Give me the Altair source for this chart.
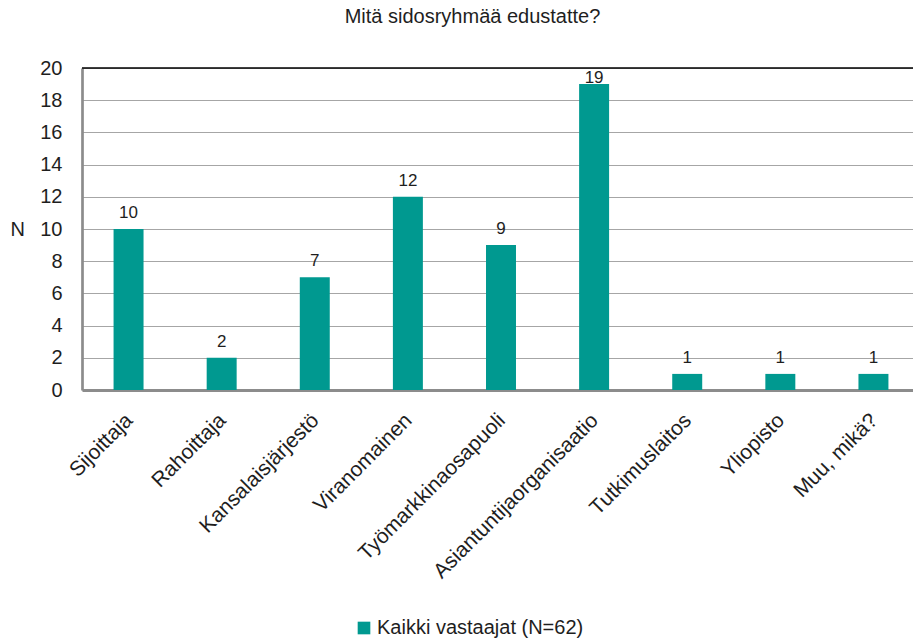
import altair as alt
import pandas as pd

categories = [
    "Sijoittaja", "Rahoittaja", "Kansalaisjärjestö", "Viranomainen",
    "Työmarkkinaosapuoli", "Asiantuntijaorganisaatio", "Tutkimuslaitos",
    "Yliopisto", "Muu, mikä?",
]
counts = [10, 2, 7, 12, 9, 19, 1, 1, 1]
series = "Kaikki vastaajat (N=62)"
y_ticks = list(range(0, 21, 2))
y_max = 20

df = pd.DataFrame({"cat": categories, "n": counts, "series": series})

FONT = "Liberation Sans"
TEAL = "#009990"
TXT = "#1e1e1e"
AXIS_GREY = "#8c8c8c"

# band scale runs a little past the right edge of the canvas
x_scale = alt.Scale(paddingInner=0.678, paddingOuter=0.339, range=[0, 838])
y_scale = alt.Scale(domain=[0, y_max])

x_enc = alt.X(
    "cat:N", sort=categories, title=None, scale=x_scale,
    axis=alt.Axis(
        labelAngle=-45, labelAlign="right", labelBaseline="middle",
        labelPadding=27, labelOffset=1, labelFontSize=21, labelColor=TXT,
        labelFont=FONT, labelLimit=0, ticks=False,
        domainColor=AXIS_GREY, domainWidth=3,
    ),
)

y_enc = alt.Y(
    "n:Q", scale=y_scale, title="N",
    axis=alt.Axis(
        values=y_ticks, ticks=False, labelOverlap=False, labelPadding=20,
        labelFontSize=20, labelColor=TXT, labelFont=FONT,
        grid=True, gridColor="#a6a6a6", gridWidth=1.2,
        domainColor=AXIS_GREY, domainWidth=2.7,
        titleAngle=0, titleX=-72, titleY=161, titleAlign="left",
        titleBaseline="middle", titleFontSize=20, titleFontWeight="normal",
        titleColor=TXT, titleFont=FONT,
    ),
)

bars = alt.Chart(df).mark_bar(color=TEAL).encode(
    x=x_enc,
    y=y_enc,
    color=alt.Color(
        "series:N", scale=alt.Scale(domain=[series], range=[TEAL]),
        legend=alt.Legend(
            title=None, orient="none", legendX=272, legendY=550,
            symbolType="square", symbolSize=160, symbolStrokeWidth=0,
            labelFontSize=20, labelColor=TXT, labelFont=FONT, labelOffset=3,
            labelLimit=0,
        ),
    ),
)

value_text = dict(baseline="bottom", fontSize=17, font=FONT, color=TXT)

values_low = alt.Chart(df).transform_filter("datum.n < 19").mark_text(
    dy=-7, **value_text
).encode(x=x_enc, y=y_enc, text="n:Q")

# the tallest label sits right on its bar, under the top border
values_top = alt.Chart(df).transform_filter("datum.n >= 19").mark_text(
    dy=3, **value_text
).encode(x=x_enc, y=y_enc, text="n:Q")

top_line = alt.Chart(pd.DataFrame({"n": [y_max]})).mark_rule(
    color="#000000", strokeWidth=1.5
).encode(y=y_enc)

chart = (
    alt.layer(bars, top_line, values_low, values_top)
    .properties(
        width=831, height=322,
        title=alt.TitleParams(
            "Mitä sidosryhmää edustatte?", fontSize=20, font=FONT,
            fontWeight="normal", color=TXT, anchor="middle", dx=-25, offset=31,
        ),
    )
    .configure(
        autosize=alt.AutoSizeParams(type="none"),
        padding={"left": 82, "top": 68, "right": 0, "bottom": 249},
    )
    .configure_view(stroke=None)
)

chart.save("out.html", embed_options={"renderer": "svg", "actions": False})
